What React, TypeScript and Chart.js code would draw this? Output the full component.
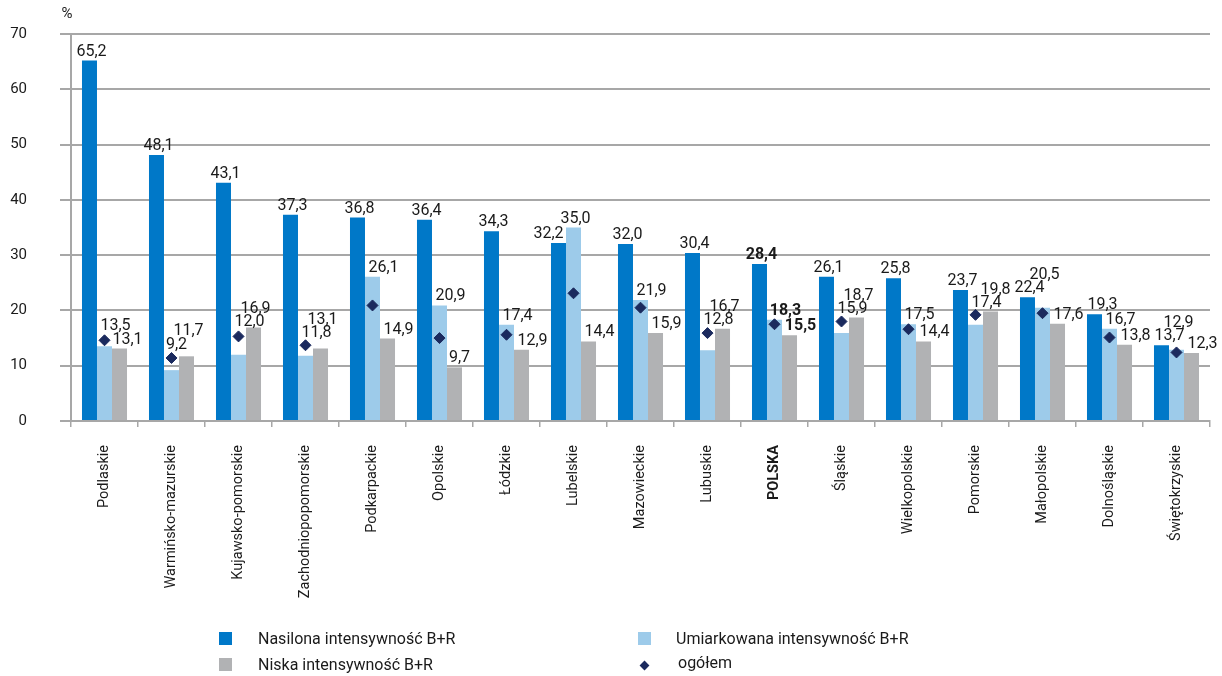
import React, { useEffect, useRef } from "react";
import { Chart, registerables } from "chart.js";

Chart.register(...registerables);

// ---------- data ----------
const categories = [
  "Podlaskie",
  "Warmińsko-mazurskie",
  "Kujawsko-pomorskie",
  "Zachodniopopomorskie",
  "Podkarpackie",
  "Opolskie",
  "Łódzkie",
  "Lubelskie",
  "Mazowieckie",
  "Lubuskie",
  "POLSKA",
  "Śląskie",
  "Wielkopolskie",
  "Pomorskie",
  "Małopolskie",
  "Dolnośląskie",
  "Świętokrzyskie",
];
const nasilona = [65.2, 48.1, 43.1, 37.3, 36.8, 36.4, 34.3, 32.2, 32.0, 30.4, 28.4, 26.1, 25.8, 23.7, 22.4, 19.3, 13.7];
const umiarkowana = [13.5, 9.2, 12.0, 11.8, 26.1, 20.9, 17.4, 35.0, 21.9, 12.8, 18.3, 15.9, 17.5, 17.4, 20.5, 16.7, 12.9];
const niska = [13.1, 11.7, 16.9, 13.1, 14.9, 9.7, 12.9, 14.4, 15.9, 16.7, 15.5, 18.7, 14.4, 19.8, 17.6, 13.8, 12.3];
const ogolem = [14.6, 11.4, 15.3, 13.7, 20.9, 15.0, 15.6, 23.1, 20.5, 15.9, 17.5, 18.0, 16.6, 19.2, 19.5, 15.1, 12.4];
const yTickValues = [0, 10, 20, 30, 40, 50, 60, 70];
const seriesNames = [
  "Nasilona intensywność B+R",
  "Umiarkowana intensywność B+R",
  "Niska intensywność B+R",
  "ogółem",
];
const unitLabel = "%";
const highlightCategory = "POLSKA";

// ---------- style ----------
const FONT = 'Roboto, "Noto Sans", sans-serif';
const C_BLUE = "#0078c8";
const C_LIGHT = "#9dcbea";
const C_GREY = "#b1b2b4";
const C_DIAMOND = "#1b2a5e";
const C_GRID = "#a7a7a7";
const C_TEXT = "#1a1a1a";

const W = 1222;
const H = 676;

const fmt = (v: number) => v.toFixed(1).replace(".", ",");

type Rect = { x0: number; x1: number; y0: number; y1: number };
const overlaps = (a: Rect, b: Rect) =>
  a.x0 < b.x1 - 1 && a.x1 > b.x0 + 1 && a.y0 < b.y1 - 1 && a.y1 > b.y0 + 1;

const DX = [0, 3, 6, 9, -3, -6, -9, -12, -15];

const valueLabelPlugin = {
  id: "valueLabels",
  afterDatasetsDraw(chart: any) {
    const ctx = chart.ctx as CanvasRenderingContext2D;
    const barIdx = [1, 2, 3];
    const obstacles: Rect[] = [];
    barIdx.forEach((di) => {
      chart.getDatasetMeta(di).data.forEach((el: any) => {
        const p = el.getProps(["x", "y", "base", "width"], true);
        obstacles.push({ x0: p.x - p.width / 2, x1: p.x + p.width / 2, y0: p.y, y1: p.base });
      });
    });
    chart.getDatasetMeta(0).data.forEach((el: any) => {
      obstacles.push({ x0: el.x - 7, x1: el.x + 7, y0: el.y - 7, y1: el.y + 7 });
    });
    ctx.save();
    ctx.textAlign = "center";
    ctx.textBaseline = "alphabetic";
    ctx.fillStyle = C_TEXT;
    for (let i = 0; i < categories.length; i++) {
      const bold = categories[i] === highlightCategory;
      ctx.font = `${bold ? "bold " : ""}16px ${FONT}`;
      // tallest series first, then the two others from the lowest bar up
      const rest = [2, 3].sort(
        (a, b) => (chart.data.datasets[a].data[i] as number) - (chart.data.datasets[b].data[i] as number)
      );
      const order = [1, ...rest];
      for (const di of order) {
        const el: any = chart.getDatasetMeta(di).data[i];
        const v = chart.data.datasets[di].data[i] as number;
        const text = fmt(v);
        const w = ctx.measureText(text).width + 3;
        const baseX = el.x + 2;
        const baseLine = el.y - 5;
        let found: Rect | null = null;
        outer: for (let dy = 0; dy <= 160; dy++) {
          for (const dx of DX) {
            const r = {
              x0: baseX + dx - w / 2,
              x1: baseX + dx + w / 2,
              y0: baseLine - dy - 12,
              y1: baseLine - dy + 2,
            };
            if (!obstacles.some((o) => overlaps(r, o))) {
              found = r;
              break outer;
            }
          }
        }
        if (!found) found = { x0: baseX - w / 2, x1: baseX + w / 2, y0: baseLine - 12, y1: baseLine + 2 };
        obstacles.push(found);
        ctx.fillText(text, (found.x0 + found.x1) / 2, found.y1 - 2);
      }
    }
    // unit label
    ctx.font = `15px ${FONT}`;
    ctx.textAlign = "center";
    ctx.textBaseline = "middle";
    ctx.fillText(unitLabel, 67, 14);
    ctx.restore();
  },
};

export default function App() {
  const ref = useRef<HTMLCanvasElement | null>(null);

  useEffect(() => {
    document.body.style.margin = "0";
    const canvas = ref.current;
    if (!canvas) return;
    const chart = new Chart(canvas, {
      type: "bar",
      data: {
        labels: categories,
        datasets: [
          {
            type: "line",
            label: seriesNames[3],
            data: ogolem,
            showLine: false,
            pointStyle: "rectRot",
            pointRadius: 5.5,
            pointHoverRadius: 5.5,
            pointBackgroundColor: C_DIAMOND,
            pointBorderColor: C_DIAMOND,
            backgroundColor: C_DIAMOND,
            borderColor: C_DIAMOND,
            order: 0,
          } as any,
          { label: seriesNames[0], data: nasilona, backgroundColor: C_BLUE, order: 1 },
          { label: seriesNames[1], data: umiarkowana, backgroundColor: C_LIGHT, order: 1 },
          { label: seriesNames[2], data: niska, backgroundColor: C_GREY, order: 1 },
        ],
      },
      options: {
        responsive: false,
        animation: false,
        layout: { padding: { top: 34, right: 12, left: 0, bottom: 0 } },
        datasets: {
          bar: { categoryPercentage: 0.672, barPercentage: 1.0, borderWidth: 0 },
        },
        plugins: {
          legend: { display: false },
          tooltip: { enabled: false },
        },
        scales: {
          x: {
            offset: true,
            grid: {
              display: true,
              offset: true,
              drawOnChartArea: false,
              drawTicks: true,
              tickLength: 6,
              color: C_GRID,
              lineWidth: 1.5,
            },
            border: { display: true, color: C_GRID, width: 2 },
            ticks: {
              autoSkip: false,
              maxRotation: 90,
              minRotation: 90,
              padding: 18,
              color: C_TEXT,
              font: (c: any) => ({
                family: FONT,
                size: 14.5,
                weight: categories[c.index] === highlightCategory ? "bold" : "normal",
              }),
            },
            afterFit: (s: any) => {
              s.height = H - 421;
            },
          },
          y: {
            min: 0,
            max: 70,
            afterBuildTicks: (s: any) => {
              s.ticks = yTickValues.map((v) => ({ value: v }));
            },
            grid: {
              color: C_GRID,
              lineWidth: 2,
              drawTicks: true,
              tickLength: 44,
              tickBorderDash: [0, 33, 20],
            },
            border: { display: true, color: C_GRID, width: 2 },
            ticks: {
              padding: 0,
              color: C_TEXT,
              font: { family: FONT, size: 15 },
            },
            afterFit: (s: any) => {
              s.width = 71;
            },
          },
        },
      },
      plugins: [valueLabelPlugin],
    } as any);
    return () => chart.destroy();
  }, []);

  const textStyle = (left: number, top: number): React.CSSProperties => ({
    position: "absolute",
    left,
    top,
    fontFamily: FONT,
    fontSize: 16,
    lineHeight: "20px",
    color: C_TEXT,
    whiteSpace: "nowrap",
  });
  const square = (left: number, top: number, color: string): React.CSSProperties => ({
    position: "absolute",
    left,
    top,
    width: 13,
    height: 13,
    background: color,
  });

  return (
    <div style={{ position: "absolute", left: 0, top: 0, width: W, height: H, background: "#fff", overflow: "hidden" }}>
      <canvas ref={ref} width={W} height={H} style={{ position: "absolute", left: 0, top: 0, width: W, height: H }} />
      <div style={square(219, 632, C_BLUE)} />
      <div style={textStyle(258, 629)}>{seriesNames[0]}</div>
      <div style={square(219, 658, C_GREY)} />
      <div style={textStyle(258, 655)}>{seriesNames[2]}</div>
      <div style={square(638, 632, C_LIGHT)} />
      <div style={textStyle(676, 629)}>{seriesNames[1]}</div>
      <div
        style={{
          position: "absolute",
          left: 640.5,
          top: 661.5,
          width: 7,
          height: 7,
          background: C_DIAMOND,
          transform: "rotate(45deg)",
        }}
      />
      <div style={textStyle(678, 653)}>{seriesNames[3]}</div>
    </div>
  );
}
